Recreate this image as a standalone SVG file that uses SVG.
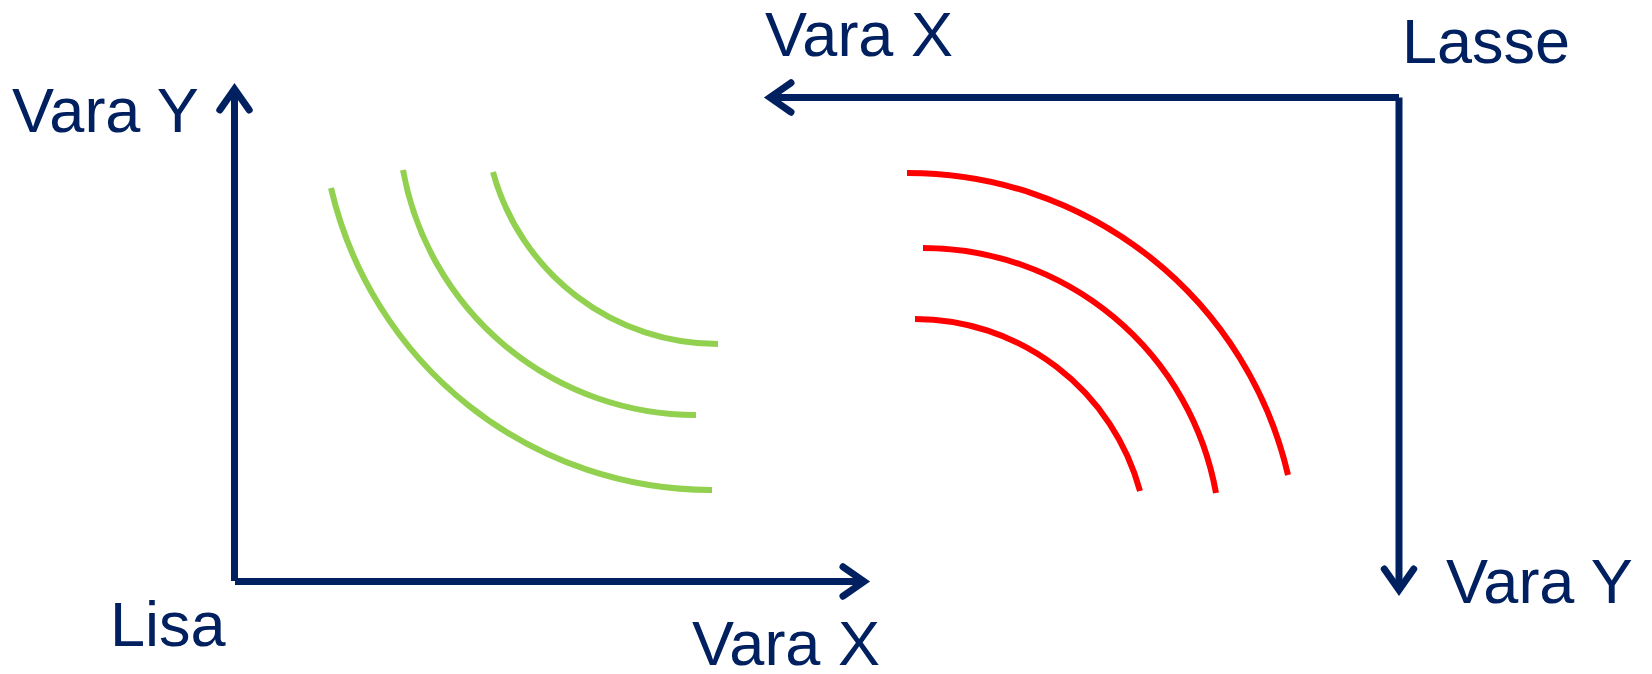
<svg xmlns="http://www.w3.org/2000/svg" width="1652" height="674" viewBox="0 0 1652 674">
  <style>
    .axis { fill: none; stroke: #002060; stroke-width: 7; stroke-linecap: butt; marker-end: url(#chevron); }
    .lbl { font-family: "Liberation Sans", Arial, sans-serif; font-size: 63px; fill: #002060; }
    .curve { fill: none; stroke-width: 6; stroke-linecap: butt; }
    .green { stroke: #92D050; }
    .red { stroke: #FF0000; }
  </style>
  <defs>
    <!-- open chevron arrowhead, vertex sits on the line end -->
    <marker id="chevron" markerUnits="userSpaceOnUse" viewBox="-30 -20 40 40" markerWidth="40" markerHeight="40" refX="0" refY="0" orient="auto" overflow="visible">
      <path d="M-21,-14.7 L0,0 L-21,14.7" fill="none" stroke="#002060" stroke-width="7" stroke-linecap="round" stroke-linejoin="miter"/>
    </marker>
  </defs>

  <rect width="1652" height="674" fill="#FFFFFF"/>

  <!-- axes -->
  <g id="connectors">
    <line class="axis" x1="234.5" y1="581" x2="234.5" y2="89"/>
    <line class="axis" x1="235" y1="581.5" x2="864" y2="581.5"/>
    <line class="axis" x1="1399" y1="97.5" x2="770" y2="97.5"/>
    <line class="axis" x1="1399" y1="97.5" x2="1399" y2="590"/>
  </g>

  <!-- Lisa's indifference curves -->
  <g id="lisa-curves">
    <path class="curve green" d="M331,188 A390,390 0 0 0 712,490"/>
    <path class="curve green" d="M403,170 A297.7,297.7 0 0 0 696,415"/>
    <path class="curve green" d="M493,172 A233.2,233.2 0 0 0 718,344"/>
  </g>

  <!-- Lasse's indifference curves -->
  <g id="lasse-curves">
    <path class="curve red" d="M907,173 A390,390 0 0 1 1288,475"/>
    <path class="curve red" d="M923,248 A297.7,297.7 0 0 1 1216,493"/>
    <path class="curve red" d="M915,319 A233.2,233.2 0 0 1 1140,491"/>
  </g>

  <!-- labels -->
  <g id="lisa-y"><text class="lbl" x="12" y="132">Vara Y</text></g>
  <g id="lisa"><text class="lbl" x="110" y="646">Lisa</text></g>
  <g id="lisa-x"><text class="lbl" x="692" y="665">Vara X</text></g>
  <g id="lasse-x"><text class="lbl" x="765" y="56">Vara X</text></g>
  <g id="lasse"><text class="lbl" x="1402" y="63">Lasse</text></g>
  <g id="lasse-y"><text class="lbl" x="1446" y="603">Vara Y</text></g>
</svg>
